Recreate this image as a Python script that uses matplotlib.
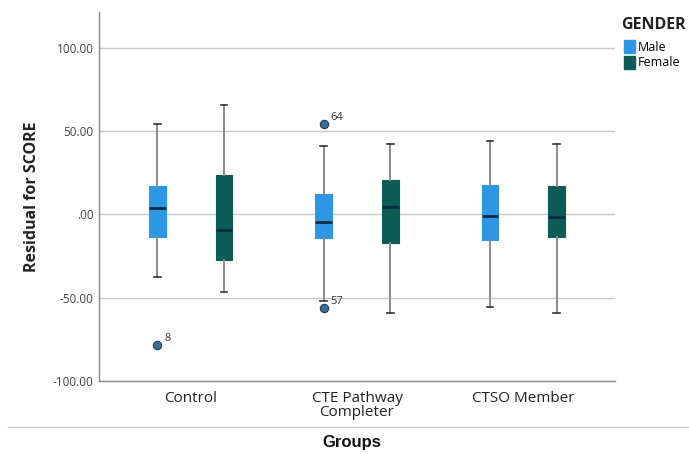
import matplotlib
matplotlib.use("Agg")
import matplotlib.pyplot as plt
from matplotlib.patches import Patch
from matplotlib.lines import Line2D

plt.rcParams["font.family"] = ["Open Sans", "DejaVu Sans"]

groups = ["Control", "CTE Pathway\nCompleter", "CTSO Member"]
genders = ["Male", "Female"]
colors = {"Male": "#2e97e3", "Female": "#0b5c57"}

# five-number summaries per group (Male, Female): whislo, q1, med, q3, whishi
male_whislo = [-37.3, -51.7, -55.7]
male_q1 = [-13.6, -14.0, -15.2]
male_med = [4.0, -4.6, -1.2]
male_q3 = [17.0, 12.2, 17.4]
male_whishi = [54.5, 40.9, 44.0]

female_whislo = [-46.3, -59.3, -58.9]
female_q1 = [-27.2, -17.2, -13.6]
female_med = [-9.2, 4.4, -1.6]
female_q3 = [23.4, 20.4, 16.8]
female_whishi = [65.7, 42.5, 42.0]

# outliers: (group index, gender, value, case label)
outlier_group = [0, 1, 1]
outlier_gender = ["Male", "Male", "Male"]
outlier_value = [-78.5, 54.0, -56.1]
outlier_label = ["8", "64", "57"]

yticks = [100, 50, 0, -50, -100]
ytick_labels = ["100.00", "50.00", ".00", "-50.00", "-100.00"]

fig = plt.figure(figsize=(6.89, 4.55), dpi=100)
ax = fig.add_axes([0.1437, 0.1626, 0.7489, 0.811])

offset = 0.2
width = 0.1
series = {
    "Male": (male_whislo, male_q1, male_med, male_q3, male_whishi),
    "Female": (female_whislo, female_q1, female_med, female_q3, female_whishi),
}
for gi, g in enumerate(genders):
    lo, q1, med, q3, hi = series[g]
    stats = []
    for i in range(len(groups)):
        fl = [v for gg, gd, v in zip(outlier_group, outlier_gender, outlier_value) if gg == i and gd == g]
        stats.append(dict(whislo=lo[i], q1=q1[i], med=med[i], q3=q3[i], whishi=hi[i], fliers=fl))
    pos = [i + (-offset if g == "Male" else offset) for i in range(len(groups))]
    ax.bxp(stats, positions=pos, widths=width, patch_artist=True, showfliers=True,
           boxprops=dict(facecolor=colors[g], edgecolor=colors[g], linewidth=0.8),
           medianprops=dict(color="#0d2a45", linewidth=2),
           whiskerprops=dict(color="#8a8a8a", linewidth=1.4),
           capprops=dict(color="#333333", linewidth=1.2),
           capwidths=0.04,
           flierprops=dict(marker="o", markersize=6, markerfacecolor="#3b6e99",
                           markeredgecolor="#1f3f5e", markeredgewidth=0.8),
           manage_ticks=False, zorder=3)

for gi, gd, v, lab in zip(outlier_group, outlier_gender, outlier_value, outlier_label):
    x = gi + (-offset if gd == "Male" else offset)
    ax.annotate(lab, (x, v), xytext=(5, 3), textcoords="offset points",
                fontsize=8, color="#333333")

ax.set_xlim(-0.55, 2.55)
ax.set_ylim(-100, 121.5)
ax.set_yticks(yticks)
ax.set_yticklabels(ytick_labels, fontsize=8.5, color="#444444")
ax.set_xticks(range(len(groups)))
ax.set_xticklabels(groups, fontsize=11, color="#222222", linespacing=0.95)
ax.tick_params(axis="y", length=0, pad=4)
ax.tick_params(axis="x", length=0, pad=7)
ax.grid(axis="y", color="#c8c8c8", linewidth=1.0, zorder=0)
ax.set_axisbelow(True)
for s in ["top", "right"]:
    ax.spines[s].set_visible(False)
for s in ["left", "bottom"]:
    ax.spines[s].set_color("#888888")
    ax.spines[s].set_linewidth(1.0)

ax.set_ylabel("Residual for SCORE", fontsize=11.5, fontweight="bold", color="#222222", va="center")
ax.yaxis.set_label_coords((32 - 99) / 516, 0.5)

fig.add_artist(Line2D([8 / 689, 1.0], [1 - 427 / 455, 1 - 427 / 455], color="#cccccc", linewidth=1.0))
fig.text(352 / 689, 1 - 443 / 455, "Groups", ha="center", va="center",
         fontsize=12, fontweight="bold", color="#111111", family=["Liberation Sans", "DejaVu Sans"])

fig.text(621 / 689, 1 - 25 / 455, "GENDER", ha="left", va="center",
         fontsize=11.5, fontweight="bold", color="#222222")
handles = [Patch(facecolor=colors[g], edgecolor=colors[g], label=g) for g in genders]
leg = fig.legend(handles=handles, loc="upper left",
                 bbox_to_anchor=(623 / 689, 1 - 39 / 455), frameon=False,
                 fontsize=9, handlelength=0.85, handleheight=1.2, handletextpad=0.25,
                 labelspacing=0.15, borderaxespad=0, borderpad=0.1)

fig.savefig("out.png", dpi=100)
